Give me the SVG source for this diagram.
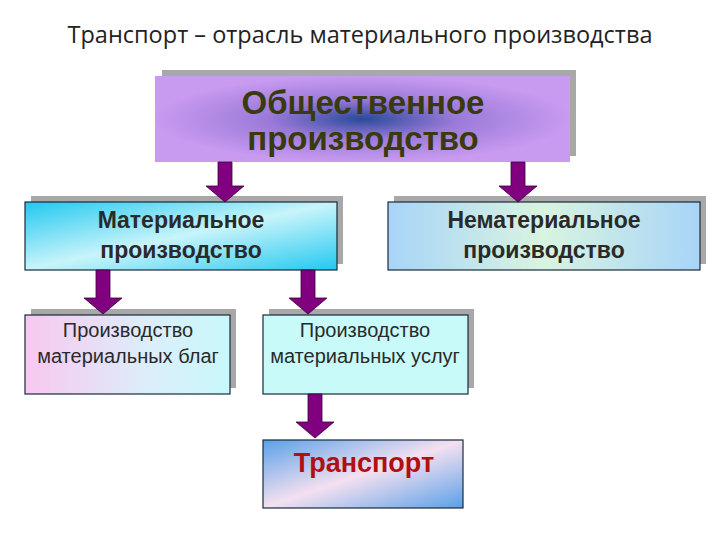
<svg xmlns="http://www.w3.org/2000/svg" width="720" height="540" viewBox="0 0 720 540">
<defs>
<radialGradient id="gTop" cx="0.5" cy="0.5" r="0.5"><stop offset="0" stop-color="#2a4a9a"/><stop offset="0.45" stop-color="#9a7ad8"/><stop offset="1" stop-color="#c89af0"/></radialGradient>
<linearGradient id="gMat" x1="0" y1="0" x2="1" y2="1"><stop offset="0" stop-color="#22c8f0"/><stop offset="0.5" stop-color="#c8f4fa"/><stop offset="1" stop-color="#22c8f0"/></linearGradient>
<linearGradient id="gNem" x1="0" y1="0" x2="1" y2="0"><stop offset="0" stop-color="#a8d4f8"/><stop offset="0.5" stop-color="#d8f4e0"/><stop offset="1" stop-color="#a8d4f8"/></linearGradient>
<linearGradient id="gBlag" x1="0" y1="0" x2="1" y2="0"><stop offset="0" stop-color="#f8c8f0"/><stop offset="0.6" stop-color="#dceefa"/><stop offset="1" stop-color="#c8f8fa"/></linearGradient>
<linearGradient id="gTr" x1="0" y1="0" x2="1" y2="1"><stop offset="0" stop-color="#5aa0e8"/><stop offset="0.5" stop-color="#f4e0f0"/><stop offset="1" stop-color="#5aa0e8"/></linearGradient>
</defs>
<style>
.sh{fill:#a8a8a8}
.bx{stroke:#1a2a3a;stroke-width:1.2}
.t{font-family:"Liberation Sans",Arial,sans-serif;text-anchor:middle}
.arr{fill:#800080;stroke:#3a003a;stroke-width:0.8}
</style>
<rect width="720" height="540" fill="#fff"/>
<text x="360" y="43" font-size="23.5" fill="#222" text-anchor="middle" font-family="'Open Sans',sans-serif">Транспорт – отрасль материального производства</text>
<g id="n-top"><rect class="sh" x="162" y="70" width="414" height="86"/><rect x="155" y="76" width="415" height="86" fill="url(#gTop)"/>
<text class="t" x="363" y="114" font-size="33" font-weight="bold" fill="#3a3a10">Общественное</text><text class="t" x="363" y="150" font-size="33" font-weight="bold" fill="#3a3a10">производство</text></g>
<g id="n-mat"><rect class="sh" x="31" y="196" width="312" height="68"/><rect class="bx" x="25" y="202" width="312" height="68" fill="url(#gMat)"/>
<text class="t" x="181" y="228" font-size="23" font-weight="bold" fill="#2a2a2a">Материальное</text><text class="t" x="181" y="258" font-size="23" font-weight="bold" fill="#2a2a2a">производство</text></g>
<g id="n-nem"><rect class="sh" x="394" y="196" width="312" height="68"/><rect class="bx" x="388" y="202" width="312" height="68" fill="url(#gNem)"/>
<text class="t" x="544" y="228" font-size="23" font-weight="bold" fill="#2a2a2a">Нематериальное</text><text class="t" x="544" y="258" font-size="23" font-weight="bold" fill="#2a2a2a">производство</text></g>
<g id="n-blag"><rect class="sh" x="31" y="309" width="205" height="79"/><rect class="bx" x="25" y="315" width="205" height="79" fill="url(#gBlag)"/>
<text class="t" x="128" y="337" font-size="20" fill="#2a2a2a">Производство</text><text class="t" x="128" y="363" font-size="20" fill="#2a2a2a">материальных благ</text></g>
<g id="n-usl"><rect class="sh" x="269" y="309" width="205" height="79"/><rect class="bx" x="263" y="315" width="205" height="79" fill="#c8fafa"/>
<text class="t" x="365" y="337" font-size="20" fill="#2a2a2a">Производство</text><text class="t" x="365" y="363" font-size="20" fill="#2a2a2a">материальных услуг</text></g>
<g id="n-tr"><rect class="bx" x="263" y="440" width="200" height="68" fill="url(#gTr)"/>
<text class="t" x="364" y="472" font-size="27" font-weight="bold" fill="#b01010">Транспорт</text></g>
<g id="connectors">
<path class="arr" d="M218 162h14v24h12l-19 16l-19-16h12z"/>
<path class="arr" d="M511 162h14v24h12l-19 16l-19-16h12z"/>
<path class="arr" d="M96 270h14v28h12l-19 16l-19-16h12z"/>
<path class="arr" d="M301 270h14v28h12l-19 16l-19-16h12z"/>
<path class="arr" d="M308 394h14v28h12l-19 16l-19-16h12z"/>
</g>
</svg>
